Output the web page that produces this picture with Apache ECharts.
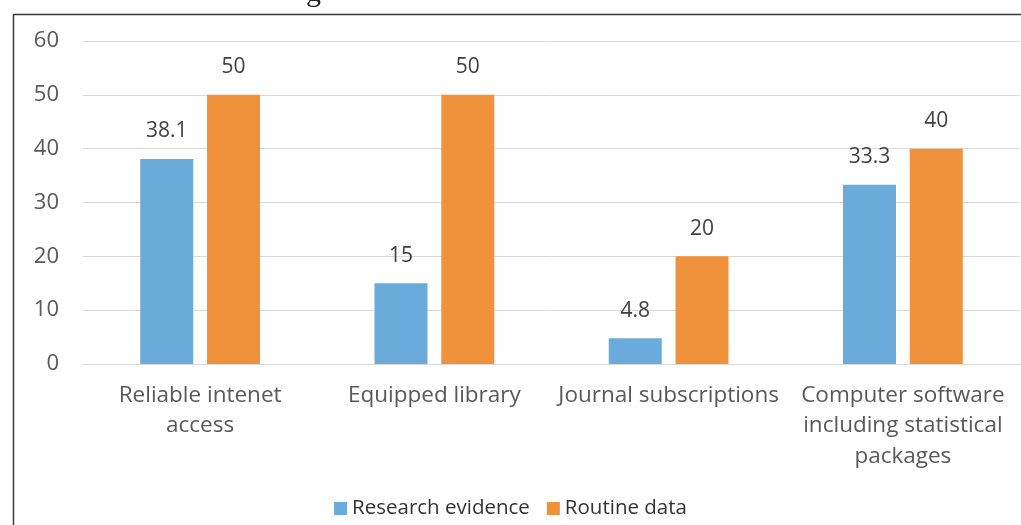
<!DOCTYPE html>
<html><head><meta charset="utf-8">
<script src="https://cdn.jsdelivr.net/npm/echarts@6/dist/echarts.min.js"></script>
<style>html,body{margin:0;padding:0;background:#fff}#c{width:1021px;height:525px}</style>
</head><body><div id="c"></div>
<script>
const categories = ['Reliable intenet\naccess', 'Equipped library', 'Journal subscriptions', 'Computer software\nincluding statistical\npackages'];
const researchEvidence = [38.1, 15, 4.8, 33.3];
const routineData = [50, 50, 20, 40];
const yTicks = [0, 10, 20, 30, 40, 50, 60];
const FONT = '"Open Sans", "Noto Sans", sans-serif';
const chart = echarts.init(document.getElementById('c'));
chart.setOption({
  animation: false,
  textStyle: {fontFamily: FONT},
  graphic: [
    {type: 'rect', shape: {x: 13.5, y: 14.5, width: 1200, height: 700}, style: {fill: 'none', stroke: '#3a3a3a', lineWidth: 1.5}, z: 10},
    {type: 'text', left: 306, top: -22, style: {text: 'g', fontSize: 30, fontFamily: 'serif', fill: '#222'}}
  ],
  grid: {left: 83, right: 1, top: 41, bottom: 161, containLabel: false},
  legend: {
    bottom: 1, left: 'center', itemWidth: 13, itemHeight: 13, itemGap: 17,
    icon: 'rect',
    textStyle: {fontSize: 20.5, color: '#333', fontFamily: FONT},
    data: ['Research evidence', 'Routine data']
  },
  xAxis: {
    type: 'category', data: categories,
    axisLine: {lineStyle: {color: '#d9d9d9', width: 1}},
    axisTick: {show: false},
    axisLabel: {fontSize: 22.5, color: '#595959', lineHeight: 30.5, margin: 16, interval: 0}
  },
  yAxis: {
    type: 'value', min: yTicks[0], max: yTicks[yTicks.length - 1], interval: 10,
    axisLine: {show: false}, axisTick: {show: false},
    splitLine: {lineStyle: {color: '#d9d9d9', width: 1}},
    axisLabel: {fontSize: 22, color: '#595959', margin: 24}
  },
  series: [
    {name: 'Research evidence', type: 'bar', data: researchEvidence, barWidth: 53, barGap: '26%',
     itemStyle: {color: '#6aabdb'},
     label: {show: true, position: 'top', distance: 17, fontSize: 21, color: '#404040'}},
    {name: 'Routine data', type: 'bar', data: routineData, barWidth: 53,
     itemStyle: {color: '#f0913c'},
     label: {show: true, position: 'top', distance: 17, fontSize: 21, color: '#404040'}}
  ]
});
</script></body></html>
